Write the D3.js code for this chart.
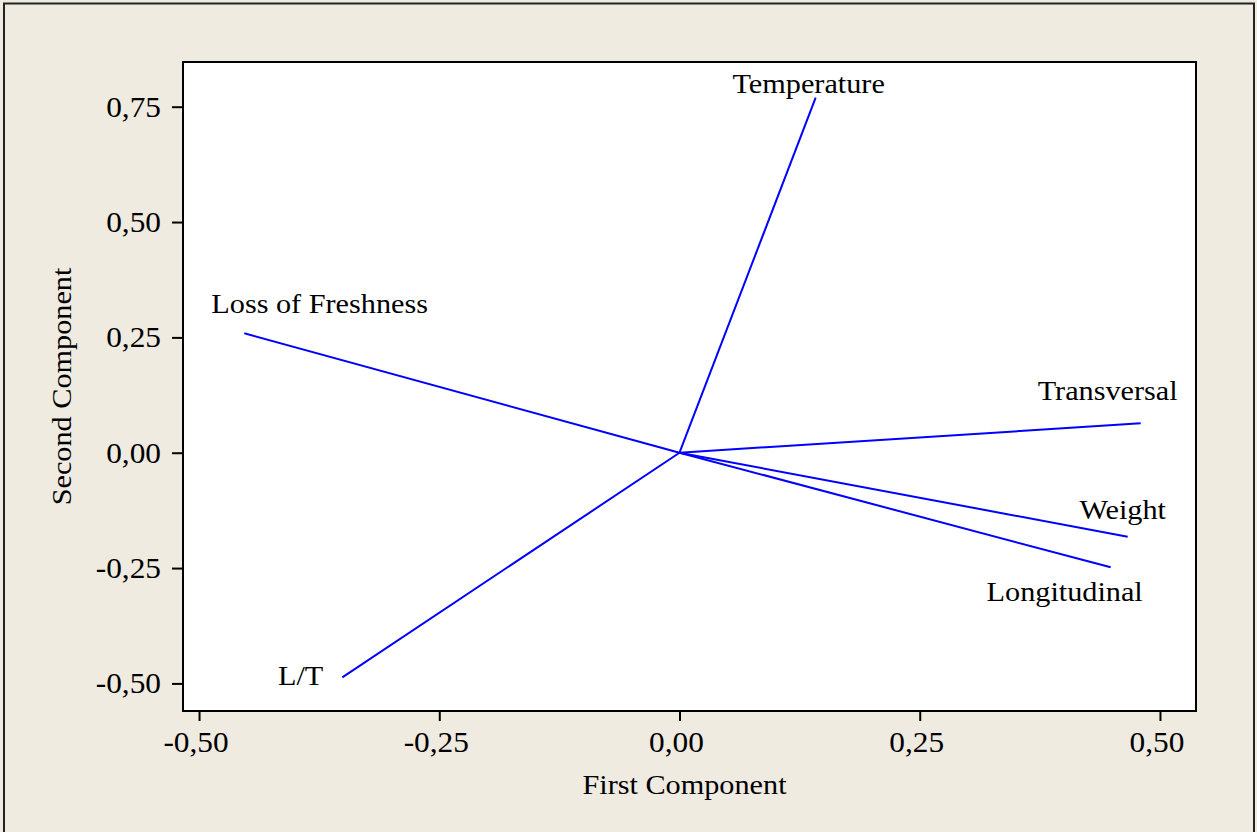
<!DOCTYPE html>
<html>
<head>
<meta charset="utf-8">
<script src="https://cdn.jsdelivr.net/npm/d3@7"></script>
<style>
  html, body { margin: 0; padding: 0; background: #efebe1; }
  svg { display: block; }
  text { font-family: "Liberation Serif", "Times New Roman", serif; fill: #000; }
</style>
</head>
<body>
<svg id="chart" width="1257" height="832"></svg>
<script>
// Loadings of each variable on the first two principal components
const variables = ["Temperature", "Loss of Freshness", "Transversal", "Weight", "Longitudinal", "L/T"];
const firstComponent  = [0.1417, -0.4529, 0.4799, 0.4664, 0.4487, -0.3509];
const secondComponent = [0.7696,  0.2588, 0.0637, -0.1821, -0.2484, -0.4869];

const xTicks = [-0.50, -0.25, 0.00, 0.25, 0.50];
const yTicks = [-0.50, -0.25, 0.00, 0.25, 0.50, 0.75];

// Label placement relative to each vector tip (pixels)
const labelOffsets = [
  { dx: -7,  dy: -5,  anchor: "middle" },
  { dx: -33, dy: -20, anchor: "start" },
  { dx: -33, dy: -23, anchor: "middle" },
  { dx: -5,  dy: -18, anchor: "middle" },
  { dx: -46, dy: 34,  anchor: "middle" },
  { dx: -19, dy: 8,   anchor: "end" }
];

const fontSize = 27.5;
const stretch = 1.1;        // the serif face here is set slightly wide
const tickFontSize = 28.5;
const tickStretch = 1.1;

const svg = d3.select("#chart");

// outer panel frame
svg.append("rect")
  .attr("x", 4).attr("y", 3.5)
  .attr("width", 1250).attr("height", 840)
  .attr("fill", "#efebe1")
  .attr("stroke", "#222").attr("stroke-width", 2);

const plot = { left: 183, right: 1196, top: 62, bottom: 711 };

const x = d3.scaleLinear().domain([-0.5167, 0.5375]).range([plot.left, plot.right]);
const y = d3.scaleLinear().domain([-0.5598, 0.8469]).range([plot.bottom, plot.top]);

svg.append("rect")
  .attr("x", plot.left).attr("y", plot.top)
  .attr("width", plot.right - plot.left).attr("height", plot.bottom - plot.top)
  .attr("fill", "#fff");

const fmt = v => d3.format(".2f")(v).replace(".", ",").replace("−", "-");

function stretchedText(g, tx, ty, str, anchor, rotate, size, sx) {
  return g.append("text")
    .attr("transform", `translate(${tx},${ty})` + (rotate ? ` rotate(${rotate})` : "") + ` scale(${sx || stretch},1)`)
    .attr("text-anchor", anchor)
    .attr("font-size", size || fontSize)
    .text(str);
}

// x axis
const xAxis = svg.append("g")
  .attr("transform", `translate(0,${plot.bottom})`)
  .call(d3.axisBottom(x).tickValues(xTicks).tickSize(10).tickFormat(""));
xAxis.select(".domain").remove();
xAxis.selectAll(".tick line").attr("stroke", "#000").attr("stroke-width", 2);
xTicks.forEach(v => stretchedText(svg, x(v) - 3, plot.bottom + 41, fmt(v), "middle", 0, tickFontSize, tickStretch));

// y axis
const yAxis = svg.append("g")
  .attr("transform", `translate(${plot.left},0)`)
  .call(d3.axisLeft(y).tickValues(yTicks).tickSize(11).tickFormat(""));
yAxis.select(".domain").remove();
yAxis.selectAll(".tick line").attr("stroke", "#000").attr("stroke-width", 2);
yTicks.forEach(v => stretchedText(svg, plot.left - 22, y(v) + 10, fmt(v), "end", 0, tickFontSize, tickStretch));

// vectors from the origin
const vectors = svg.append("g");
variables.forEach((name, i) => {
  vectors.append("line")
    .attr("x1", x(0)).attr("y1", y(0))
    .attr("x2", x(firstComponent[i])).attr("y2", y(secondComponent[i]))
    .attr("stroke", "#0000ff").attr("stroke-width", 2);
});

// variable labels
variables.forEach((name, i) => {
  const o = labelOffsets[i];
  stretchedText(svg, x(firstComponent[i]) + o.dx, y(secondComponent[i]) + o.dy, name, o.anchor);
});

// plot border
svg.append("rect")
  .attr("x", plot.left).attr("y", plot.top)
  .attr("width", plot.right - plot.left).attr("height", plot.bottom - plot.top)
  .attr("fill", "none").attr("stroke", "#000").attr("stroke-width", 2);

// axis titles
stretchedText(svg, (plot.left + plot.right) / 2 - 5, 794, "First Component", "middle");
stretchedText(svg, 71, (plot.top + plot.bottom) / 2 + 0, "Second Component", "middle", -90);
</script>
</body>
</html>
